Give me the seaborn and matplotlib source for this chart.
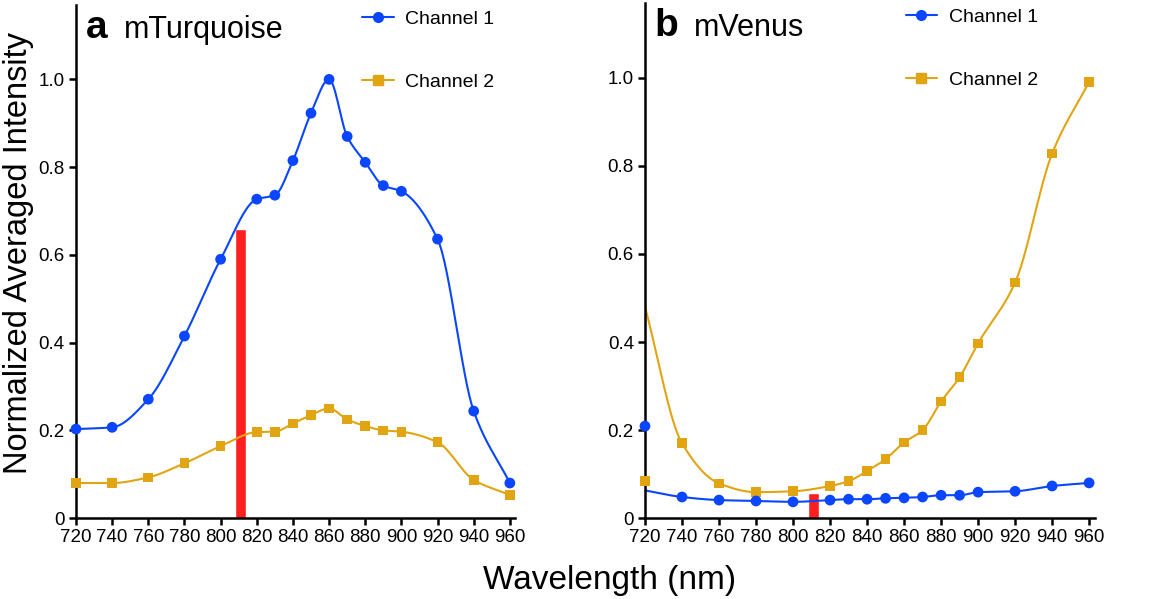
import numpy as np
import pandas as pd
import matplotlib
matplotlib.use("Agg")
import matplotlib.pyplot as plt
from matplotlib.lines import Line2D
import seaborn as sns

# === DATA ===
wavelength = [720, 740, 760, 780, 800, 820, 830, 840, 850, 860, 870, 880, 890, 900, 920, 940, 960]

turq_ch1 = [0.203, 0.207, 0.271, 0.415, 0.590, 0.727, 0.736, 0.815, 0.923, 1.000,
            0.870, 0.811, 0.758, 0.745, 0.636, 0.244, 0.080]
turq_ch2 = [0.080, 0.080, 0.093, 0.125, 0.164, 0.196, 0.197, 0.216, 0.235, 0.250,
            0.225, 0.210, 0.200, 0.197, 0.173, 0.087, 0.053]

venus_ch1 = [0.209, 0.048, 0.041, 0.039, 0.037, 0.041, 0.043, 0.043, 0.045, 0.046,
             0.048, 0.052, 0.052, 0.059, 0.061, 0.073, 0.080]
venus_ch2 = [0.085, 0.170, 0.079, 0.059, 0.061, 0.073, 0.084, 0.107, 0.134, 0.172,
             0.200, 0.265, 0.320, 0.397, 0.535, 0.828, 0.991]
# the fitted curves in panel b do not start at the 720 nm markers
venus_ch1_curve_start = 0.063
venus_ch2_curve_start = 0.480

laser_nm = [811]
turq_laser = [0.66]
venus_laser = [0.057]

BLUE = "#0a46ff"
GOLD = "#e1a513"
RED = "#ff1f1f"

sns.set_style("ticks")
plt.rcParams['font.family'] = ['Liberation Sans', 'DejaVu Sans']
plt.rcParams['text.color'] = 'black'
plt.rcParams['axes.labelcolor'] = 'black'
plt.rcParams['xtick.color'] = 'black'
plt.rcParams['ytick.color'] = 'black'


def pchip(x, y, xs):
    # monotone cubic curve through the points (Fritsch-Carlson)
    x = np.asarray(x, float)
    y = np.asarray(y, float)
    h = np.diff(x)
    d = np.diff(y) / h
    m = np.zeros_like(y)
    for k in range(1, len(x) - 1):
        if d[k - 1] * d[k] > 0:
            w1 = 2 * h[k] + h[k - 1]
            w2 = h[k] + 2 * h[k - 1]
            m[k] = (w1 + w2) / (w1 / d[k - 1] + w2 / d[k])
    m[0] = d[0]
    m[-1] = d[-1]
    idx = np.clip(np.searchsorted(x, xs) - 1, 0, len(x) - 2)
    t = (xs - x[idx]) / h[idx]
    h00 = 2 * t**3 - 3 * t**2 + 1
    h10 = t**3 - 2 * t**2 + t
    h01 = -2 * t**3 + 3 * t**2
    h11 = t**3 - t**2
    return h00 * y[idx] + h10 * h[idx] * m[idx] + h01 * y[idx + 1] + h11 * h[idx] * m[idx + 1]


def draw_panel(ax, ch1, ch2, ch1_line, ch2_line, laser, letter, name, leg_x):
    xs = np.linspace(720, 960, 600)
    ax.bar(laser_nm, laser, width=6, color=RED, zorder=1)
    ax.plot(xs, pchip(wavelength, ch2_line, xs), color=GOLD, lw=1.5, zorder=2)
    ax.plot(xs, pchip(wavelength, ch1_line, xs), color=BLUE, lw=1.5, zorder=2)
    df = pd.DataFrame({"wl": wavelength, "ch1": ch1, "ch2": ch2})
    sns.scatterplot(data=df, x="wl", y="ch2", ax=ax, marker="s", s=48, color=GOLD,
                    edgecolor="none", clip_on=False, zorder=3)
    sns.scatterplot(data=df, x="wl", y="ch1", ax=ax, marker="o", s=60, color=BLUE,
                    edgecolor="none", clip_on=False, zorder=3)

    ax.set_xlim(720, 963)
    ax.set_ylim(0, 1.17)
    ax.set_xticks([720, 740, 760, 780, 800, 820, 840, 860, 880, 900, 920, 940, 960])
    ax.set_yticks([0, 0.2, 0.4, 0.6, 0.8, 1.0])
    ax.set_yticklabels(["0", "0.2", "0.4", "0.6", "0.8", "1.0"])
    ax.set_xlabel("")
    ax.set_ylabel("")
    ax.tick_params(axis="both", direction="out", length=5, width=1.8, color="black",
                   pad=3, labelsize=13.5)
    for side in ["left", "bottom"]:
        ax.spines[side].set_linewidth(1.8)
        ax.spines[side].set_color("black")
    sns.despine(ax=ax)

    ax.text(0.022, 0.935, letter, transform=ax.transAxes, fontsize=28, fontweight="bold", va="baseline")
    ax.text(0.11, 0.935, name, transform=ax.transAxes, fontsize=22, va="baseline")

    handles = [Line2D([], [], color=BLUE, lw=1.5, marker="o", markersize=7),
               Line2D([], [], color=GOLD, lw=1.5, marker="s", markersize=6.5)]
    ax.legend(handles, ["Channel 1", "Channel 2"], loc="upper left",
              bbox_to_anchor=(leg_x, 0.99), frameon=False, fontsize=14,
              handlelength=1.6, handletextpad=0.6, labelspacing=2.35,
              borderpad=0, borderaxespad=0)


fig = plt.figure(figsize=(11.53, 5.99), dpi=100)
ax_a = fig.add_axes([0.0659, 0.135, 0.381, 0.857])
ax_b = fig.add_axes([0.5594, 0.135, 0.390, 0.860])

draw_panel(ax_a, turq_ch1, turq_ch2, turq_ch1, turq_ch2, turq_laser, "a", "mTurquoise", 0.652)
draw_panel(ax_b, venus_ch1, venus_ch2,
           [venus_ch1_curve_start] + venus_ch1[1:],
           [venus_ch2_curve_start] + venus_ch2[1:],
           venus_laser, "b", "mVenus", 0.58)

ax_a.set_ylabel("Normalized Averaged Intensity", fontsize=23.5)
ax_a.yaxis.set_label_coords(-0.095, 0.517)
fig.text(0.529, 0.005, "Wavelength (nm)", fontsize=24, ha="center", va="bottom")

fig.savefig("out.png", dpi=100)
